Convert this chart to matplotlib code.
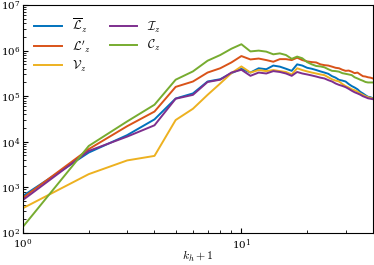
import matplotlib
matplotlib.use("Agg")
import matplotlib.pyplot as plt
import numpy as np

plt.rcParams['mathtext.fontset'] = 'cm'
plt.rcParams['font.family'] = 'serif'
plt.rcParams['font.serif'] = ['DejaVu Serif']

k = np.arange(1, 41)

L_bar = [650, 5800, 14000, 31000, 89000, 115000, 210000, 236000, 320000, 400000,
         330000, 410000, 390000, 470000, 445000, 400000, 360000, 500000, 470000, 420000,
         400000, 375000, 350000, 330000, 310000, 275000, 255000, 228000, 220000, 210000,
         185000, 167000, 155000, 142000, 125000, 115000, 105000, 97000, 95000, 90000]
L_prime = [590, 6900, 22000, 46000, 160000, 210000, 330000, 410000, 550000, 760000,
           640000, 670000, 620000, 570000, 650000, 650000, 620000, 700000, 620000, 580000,
           560000, 550000, 500000, 480000, 470000, 445000, 420000, 410000, 380000, 360000,
           365000, 345000, 320000, 330000, 300000, 275000, 270000, 260000, 255000, 245000]
V = [350, 1950, 3900, 4900, 30000, 53000, 107000, 190000, 320000, 450000,
     330000, 375000, 355000, 375000, 355000, 340000, 300000, 410000, 375000, 350000,
     330000, 315000, 300000, 290000, 260000, 235000, 220000, 210000, 185000, 167000,
     155000, 142000, 135000, 126000, 115000, 107000, 100000, 95000, 92000, 88000]
I = [530, 6300, 13000, 23000, 88000, 107000, 205000, 230000, 330000, 380000,
     280000, 330000, 315000, 355000, 340000, 315000, 280000, 340000, 315000, 300000,
     285000, 270000, 255000, 245000, 225000, 210000, 190000, 177000, 168000, 158000,
     145000, 132000, 122000, 115000, 108000, 100000, 95000, 90000, 88000, 86000]
C = [137, 8100, 28000, 65000, 230000, 350000, 600000, 800000, 1100000, 1380000,
     960000, 1000000, 950000, 830000, 870000, 800000, 660000, 740000, 680000, 560000,
     500000, 460000, 450000, 430000, 390000, 360000, 355000, 345000, 320000, 310000,
     300000, 290000, 260000, 245000, 230000, 218000, 205000, 200000, 200000, 200000]

fig = plt.figure(figsize=(3.74, 2.65), dpi=100)
ax = fig.add_axes([0.0615, 0.121, 0.9355, 0.86])

ax.loglog(k, L_bar, color='#0072BD', lw=1.4, label=r'$\overline{\mathcal{L}}_z$')
ax.loglog(k, L_prime, color='#D95319', lw=1.4, label=r"$\mathcal{L}'_z$")
ax.loglog(k, V, color='#EDB120', lw=1.4, label=r'$\mathcal{V}_z$')
ax.loglog(k, I, color='#7E2F8E', lw=1.4, label=r'$\mathcal{I}_z$')
ax.loglog(k, C, color='#77AC30', lw=1.4, label=r'$\mathcal{C}_z$')

ax.set_xlim(1, 40)
ax.set_ylim(1e2, 1e7)
ax.tick_params(which='both', direction='in', labelsize=7.5)
ax.tick_params(axis='y', pad=2)
ax.set_xlabel(r'$k_h+1$', fontsize=8.5, labelpad=-2.5)
ax.legend(loc='upper left', ncol=2, frameon=False, fontsize=9,
          handlelength=2.2, columnspacing=1.5, labelspacing=0.3)

fig.savefig('out.png', dpi=100)
